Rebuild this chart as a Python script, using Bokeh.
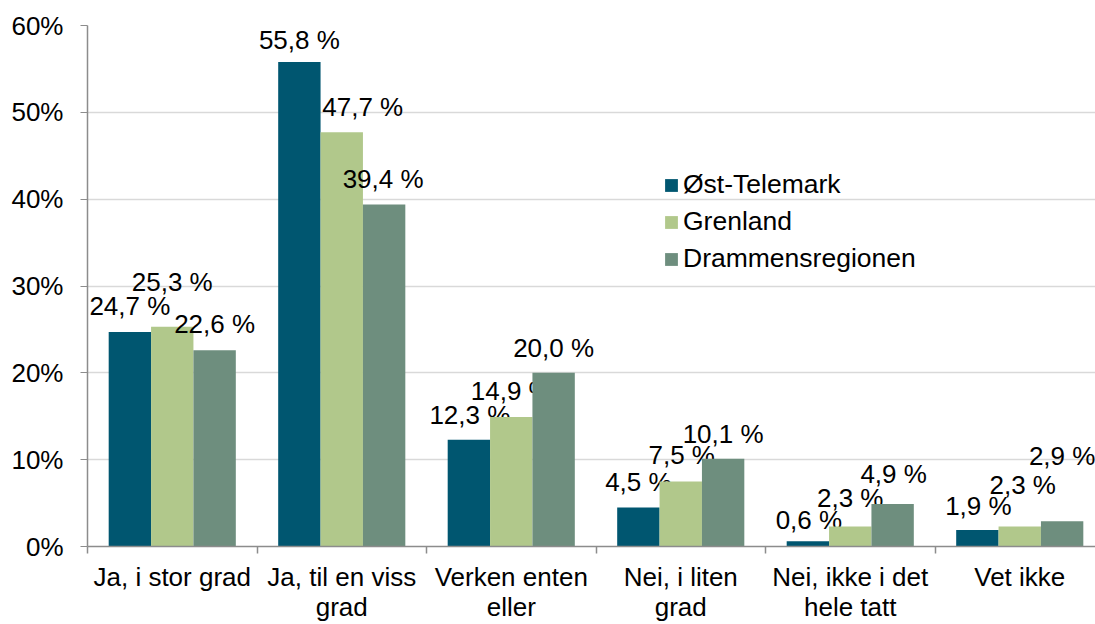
from bokeh.plotting import figure
from bokeh.models import ColumnDataSource, FixedTicker, Legend, LegendItem, Range1d
from bokeh.core.properties import value
from bokeh.embed import file_html
from bokeh.resources import INLINE

categories = ["Ja, i stor grad", "Ja, til en viss\ngrad", "Verken enten\neller",
              "Nei, i liten\ngrad", "Nei, ikke i det\nhele tatt", "Vet ikke"]
series_names = ["Øst-Telemark", "Grenland", "Drammensregionen"]
ost_telemark = [24.7, 55.8, 12.3, 4.5, 0.6, 1.9]
grenland = [25.3, 47.7, 14.9, 7.5, 2.3, 2.3]
drammensregionen = [22.6, 39.4, 20.0, 10.1, 4.9, 2.9]
y_ticks = [0, 10, 20, 30, 40, 50, 60]

colors = ["#005670", "#B1C88B", "#6E8E7E"]
# data label placement: pixels above bar top, horizontal shift (pixels)
label_dy = [[18, 14, 17, 17, 13, 16], [37, 17, 18, 18, 21, 34], [18, 17, 17, 17, 22, 57]]
label_dx = [[0, 0, 1, 0, 1, 1], [0, 21, 0, 1, 0, 3], [0, -1, 0, 0, 1, 0]]
BASE_SHIFT = 8

FONT = "Liberation Sans"
n = len(categories)
centers = [i + 0.5 for i in range(n)]
bar_w = 0.25
offsets = [-0.25, 0.0, 0.25]

p = figure(width=1095, height=624, output_backend="svg", toolbar_location=None,
           x_range=Range1d(0, 1008 / 169.5), y_range=Range1d(0, 60),
           min_border_left=87, min_border_right=0, min_border_top=25, min_border_bottom=76)
p.outline_line_color = None
p.background_fill_color = "white"
p.border_fill_color = "white"

items = []
all_series = [ost_telemark, grenland, drammensregionen]
for k, vals in enumerate(all_series):
    src = ColumnDataSource(dict(
        x=[c + offsets[k] for c in centers],
        top=vals,
        label=[("%.1f %%" % v).replace(".", ",") for v in vals],
        dy=[-(d + BASE_SHIFT) for d in label_dy[k]],
        dx=label_dx[k],
    ))
    r = p.vbar(x="x", top="top", bottom=0, width=bar_w, source=src,
               fill_color=colors[k], line_color=None)
    p.text(x="x", y="top", text="label", source=src, x_offset="dx", y_offset="dy",
           text_align="center", text_baseline="alphabetic",
           text_font=value(FONT), text_font_size="26px", text_color="black")
    items.append(LegendItem(label=series_names[k], renderers=[r]))

legend = Legend(items=items, location=(576, 272), orientation="vertical",
                background_fill_alpha=0, border_line_alpha=0,
                glyph_width=16, glyph_height=16, label_height=29, spacing=6,
                label_standoff=4, padding=0, margin=0,
                label_text_font=FONT, label_text_font_size="26.5px", label_text_color="black")
p.add_layout(legend)

# y axis
p.yaxis.ticker = FixedTicker(ticks=y_ticks)
p.yaxis.major_label_overrides = {t: "%d%%" % t for t in y_ticks}
p.yaxis.axis_line_color = "#8C8C8C"
p.yaxis.axis_line_width = 1.5
p.yaxis.major_tick_line_color = "#8C8C8C"
p.yaxis.major_tick_out = 7
p.yaxis.major_tick_in = 0
p.yaxis.minor_tick_line_color = None
p.yaxis.major_label_text_font = FONT
p.yaxis.major_label_text_font_size = "26px"
p.yaxis.major_label_text_color = "black"
p.yaxis.major_label_standoff = 17

# x axis
p.xaxis.ticker = FixedTicker(ticks=centers, minor_ticks=list(range(n + 1)))
p.xaxis.major_label_overrides = {c: lab for c, lab in zip(centers, categories)}
p.xaxis.axis_line_color = "#8C8C8C"
p.xaxis.axis_line_width = 1.5
p.xaxis.major_tick_line_color = None
p.xaxis.major_tick_out = 0
p.xaxis.major_tick_in = 0
p.xaxis.minor_tick_line_color = "#8C8C8C"
p.xaxis.minor_tick_line_width = 1.5
p.xaxis.minor_tick_out = 7
p.xaxis.minor_tick_in = 0
p.xaxis.major_label_text_font = FONT
p.xaxis.major_label_text_font_size = "26px"
p.xaxis.major_label_text_line_height = 1.0
p.xaxis.major_label_text_color = "black"
p.xaxis.major_label_standoff = 8

p.xgrid.grid_line_color = None
p.ygrid.ticker = FixedTicker(ticks=y_ticks[1:])
p.ygrid.grid_line_color = "#D9D9D9"
p.ygrid.grid_line_width = 1.5

open("out.html", "w").write(file_html(p, INLINE))
